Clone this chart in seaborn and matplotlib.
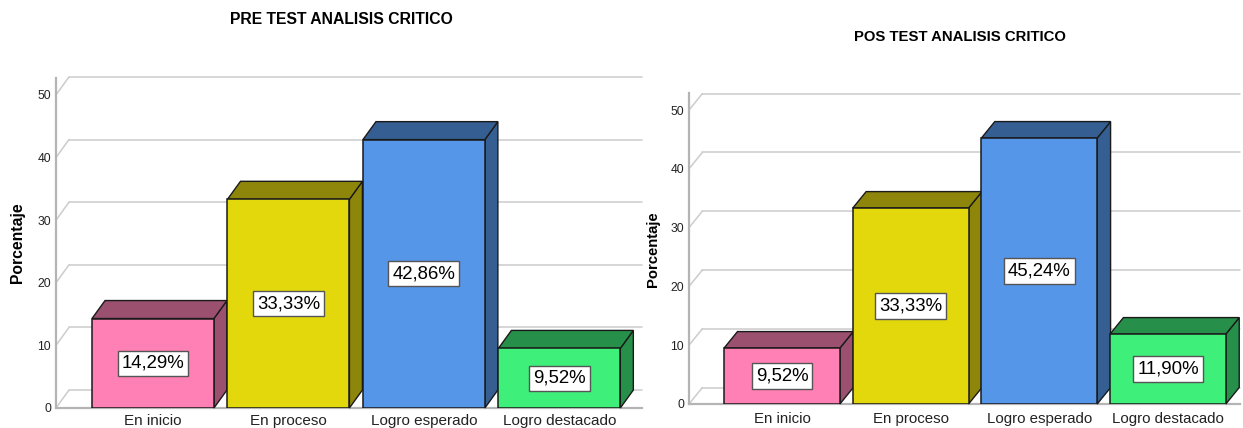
import matplotlib
matplotlib.use("Agg")
import matplotlib.pyplot as plt
from matplotlib.patches import Polygon
import seaborn as sns

sns.set_style("white")
plt.rcParams['font.family'] = ['Liberation Sans', 'DejaVu Sans']

# Data
categorias = ["En inicio", "En proceso", "Logro esperado", "Logro destacado"]
pre_test = [14.29, 33.33, 42.86, 9.52]
pos_test = [9.52, 33.33, 45.24, 11.90]
pre_labels = ["14,29%", "33,33%", "42,86%", "9,52%"]
pos_labels = ["9,52%", "33,33%", "45,24%", "11,90%"]
y_ticks = [0, 10, 20, 30, 40, 50]

# Colours: front face and darker side/top face
front_colors = ["#FF80B4", "#E3D80C", "#5596E8", "#3EEF7A"]
side_colors = ["#9B5070", "#8E860A", "#355E92", "#268F4A"]
GRID = "#CCCCCC"
W, H = 1243, 428


def draw_panel(box, data, labels, title, title_xy, ylabel_xy, xlims, ylim_top, depth,
               label_pad, title_size, ylabel_size, cat_size):
    # box is left, right, bottom, top in pixels
    left, right, bottom, top = box
    ax = fig.add_axes([left / W, 1 - bottom / H, (right - left) / W, (bottom - top) / H])
    dx, dy = depth

    sns.barplot(x=categorias, y=data, hue=categorias, palette=front_colors, width=0.9,
                saturation=1, edgecolor="#1A1A1A", linewidth=1.1, legend=False, zorder=4, ax=ax)
    ax.set_xlim(*xlims)
    ax.set_ylim(0, ylim_top)

    # back wall lines and the diagonals going to the axis
    for t in y_ticks:
        ax.plot([xlims[0] + dx, xlims[1]], [t + dy, t + dy], color=GRID, lw=1.1, zorder=1, clip_on=False)
        ax.plot([xlims[0], xlims[0] + dx], [t, t + dy], color=GRID, lw=1.1, zorder=1, clip_on=False)

    # fake 3D faces of every bar
    for bar, side, lab in zip(ax.patches, side_colors, labels):
        x0 = bar.get_x()
        x1 = x0 + bar.get_width()
        h = bar.get_height()
        ax.add_patch(Polygon([(x1, 0), (x1 + dx, dy), (x1 + dx, h + dy), (x1, h)], closed=True,
                             fc=side, ec="#1A1A1A", lw=1.0, zorder=3, clip_on=False))
        ax.add_patch(Polygon([(x0, h), (x0 + dx, h + dy), (x1 + dx, h + dy), (x1, h)], closed=True,
                             fc=side, ec="#1A1A1A", lw=1.0, zorder=3, clip_on=False))
        ax.text(x0 + bar.get_width() / 2, h / 2, lab, ha="center", va="center", fontsize=13.4,
                color="black", zorder=6,
                bbox=dict(boxstyle="square,pad=0.22", fc="white", ec="#555555", lw=1.0))

    ax.set_yticks(y_ticks)
    ax.set_xticks(range(len(categorias)))
    ax.set_xticklabels(categorias)
    ax.tick_params(axis="y", length=0, pad=3.5, labelsize=8.7, labelcolor="#222222")
    ax.tick_params(axis="x", length=0, pad=label_pad, labelsize=cat_size, labelcolor="#222222")
    ax.set_ylabel("")

    sns.despine(ax=ax, top=True, right=True)
    for s in ["left", "bottom"]:
        ax.spines[s].set_color("#B4B4B4")
        ax.spines[s].set_linewidth(1.6)

    fig.text(title_xy[0] / W, 1 - title_xy[1] / H, title, ha="center", va="center",
             fontsize=title_size, fontweight="bold", color="black")
    fig.text(ylabel_xy[0] / W, 1 - ylabel_xy[1] / H, "Porcentaje", ha="center", va="center",
             rotation=90, fontsize=ylabel_size, fontweight="bold", color="black")
    return ax


fig = plt.figure(figsize=(W / 100, H / 100), dpi=100)

draw_panel((56, 642, 408, 78), pre_test, pre_labels, "PRE TEST ANALISIS CRITICO",
           (341, 20), (18, 243), (-0.716, 3.61), 52.7, (0.096, 2.87), 4.5, 11.3, 11.3, 11.0)
draw_panel((689, 1240, 404, 93), pos_test, pos_labels, "POS TEST ANALISIS CRITICO",
           (960, 37), (653, 249), (-0.723, 3.56), 52.9, (0.104, 2.8), 6, 10.75, 10.7, 10.8)

fig.savefig("out.png", dpi=100)
